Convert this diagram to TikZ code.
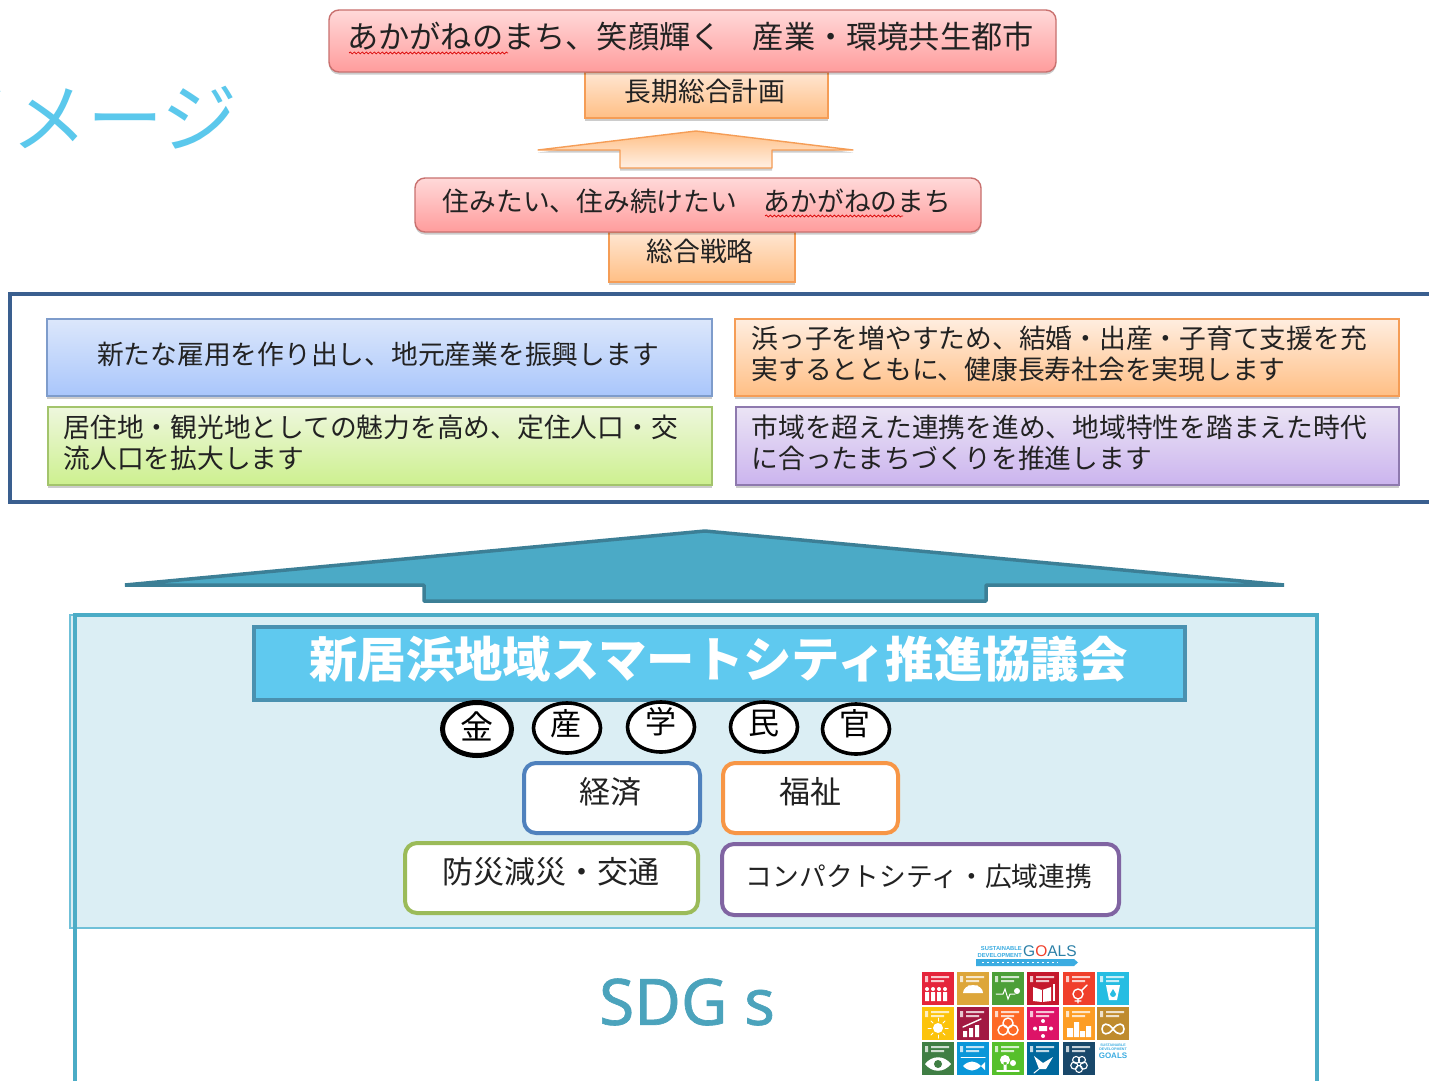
\documentclass[tikz,border=0pt]{standalone}
\usepackage{fontspec}
\setmainfont{Noto Sans CJK JP}
\newfontfamily\latinsans{Liberation Sans}
\newfontfamily\sdgfont[FakeBold=1]{Noto Sans}
\usetikzlibrary{shapes.geometric,shadows,decorations.pathmorphing}
\newcommand{\fs}[1]{\fontsize{#1}{#1}\selectfont}
% box by its pixel corners
\newcommand{\bx}[6]{%
  \pgfmathsetmacro{\bw}{#5-#3}\pgfmathsetmacro{\bh}{#6-#4}%
  \pgfmathsetmacro{\cxx}{(#3+#5)/2}\pgfmathsetmacro{\cyy}{(#4+#6)/2}%
  \node (#1) [#2,minimum width=\bw pt,minimum height=\bh pt] at (\cxx,\cyy) {};}
\newcommand{\tile}[4]{\begin{scope}[shift={(#1,#2)}]
  \fill[#3] (0,0) rectangle (32,33);
  \fill[white,opacity=.75] (3,4) rectangle (6,10) (9,4) rectangle (27,6) (9,8) rectangle (22,10);
  \begin{scope}[white,line width=1.4pt,line cap=round] #4 \end{scope}
\end{scope}}
\definecolor{c1}{HTML}{E5243B}\definecolor{c2}{HTML}{DDA63A}\definecolor{c3}{HTML}{4C9F38}
\definecolor{c4}{HTML}{C5192D}\definecolor{c5}{HTML}{F0402B}\definecolor{c6}{HTML}{26BDE2}
\definecolor{c7}{HTML}{FCC30B}\definecolor{c8}{HTML}{A21942}\definecolor{c9}{HTML}{FD6925}
\definecolor{c10}{HTML}{DD1367}\definecolor{c11}{HTML}{FD9D24}\definecolor{c12}{HTML}{BF8B2E}
\definecolor{c13}{HTML}{3F7E44}\definecolor{c14}{HTML}{0A97D9}\definecolor{c15}{HTML}{56C02B}
\definecolor{c16}{HTML}{00689D}\definecolor{c17}{HTML}{19486A}
\definecolor{txt}{HTML}{222222}
\definecolor{RedB}{HTML}{C9716F}\definecolor{RedT}{HTML}{FFD9D9}\definecolor{RedE}{HTML}{FF9C9C}
\definecolor{OrB}{HTML}{F59D56}\definecolor{OrT}{HTML}{FFE6D2}\definecolor{OrE}{HTML}{FFBF85}
\definecolor{BlB}{HTML}{7E9CCB}\definecolor{BlT}{HTML}{DCE7FB}\definecolor{BlE}{HTML}{A9C6FB}
\definecolor{GrB}{HTML}{A3C46C}\definecolor{GrT}{HTML}{EEF7DD}\definecolor{GrE}{HTML}{CDF08F}
\definecolor{PuB}{HTML}{8E79AE}\definecolor{PuT}{HTML}{EBE4F5}\definecolor{PuE}{HTML}{CBB4EE}
\definecolor{HeadC}{HTML}{5BC8EC}\definecolor{FrameC}{HTML}{3A5F8F}
\definecolor{ArrB}{HTML}{3C7F96}\definecolor{ArrF}{HTML}{4BAAC6}
\definecolor{PanelT}{HTML}{6FC0D8}\definecolor{PanelB}{HTML}{4BACC6}\definecolor{PanelF}{HTML}{DBEEF4}
\definecolor{BarB}{HTML}{4A91B0}\definecolor{BarF}{HTML}{5FC9EF}
\definecolor{ThA}{HTML}{4F81BD}\definecolor{ThB}{HTML}{F79646}\definecolor{ThC}{HTML}{9BBB59}\definecolor{ThD}{HTML}{8064A2}
\definecolor{SdgC}{HTML}{4BA3BC}
\tikzset{
  x=1pt,y=-1pt,
  boxbase/.style={draw,inner sep=0pt,outer sep=0pt,line width=1.4pt},
  shad/.style={drop shadow={shadow xshift=0pt,shadow yshift=-2.5pt,opacity=.2,fill=black}},
  redbox/.style={boxbase,shad,rectangle,rounded corners=10pt,draw=RedB,top color=RedT,bottom color=RedE},
  orbox/.style={boxbase,shad,rectangle,draw=OrB,top color=OrT,bottom color=OrE},
  bluebox/.style={boxbase,shad,draw=BlB,top color=BlT,bottom color=BlE},
  orbig/.style={boxbase,shad,draw=OrB,top color=OrT!70!white,bottom color=OrE},
  greenbox/.style={boxbase,shad,draw=GrB,top color=GrT,bottom color=GrE},
  purplebox/.style={boxbase,shad,draw=PuB,top color=PuT,bottom color=PuE},
  theme/.style={draw=#1,fill=white,line width=4pt,rounded corners=12pt,inner sep=0pt,outer sep=0pt},
  sector/.style={ellipse,draw=black,fill=white,line width=3.6pt,inner sep=0pt,outer sep=0pt},
  lab/.style={text=txt,inner sep=0pt,outer sep=0pt},
  squig/.style={draw=red!85!black,line width=.7pt,decorate,decoration={snake,amplitude=1pt,segment length=4pt}},
  logotext/.style={inner sep=0pt,text=c14!80!white,font=\latinsans\bfseries\fontsize{#1}{#1}\selectfont},
}
\begin{document}
\begin{tikzpicture}
\useasboundingbox (0,0) rectangle (1429,1081);
\clip (0,0) rectangle (1429,1081);
\fill[white] (0,0) rectangle (1429,1081);
% clipped heading
\node (heading) [inner sep=0pt,text=HeadC,anchor=west] at (-65,118) {\fs{76}イメージ};
% top stack
\bx{plan}{orbox}{585}{72}{828}{118}
\bx{vision}{redbox}{329}{10}{1056}{72}
\node (visiont) [lab] at (690.5,37) {\fs{31.2}あかがねのまち、笑顔輝く　産業・環境共生都市};
\node (plant) [lab] at (705,91) {\fs{26.75}長期総合計画};
\draw[squig] (349,53) -- (508,53);
% small arrow
\draw[draw=OrB,line width=1.4pt,top color=OrE,bottom color=OrT!60!white,shad,line join=round]
  (696,131) -- (853,150) -- (772,150) -- (772,168) -- (620,168) -- (620,150) -- (538,150) -- cycle;
\bx{strategy}{orbox}{609}{232}{795}{282}
\bx{sub}{redbox}{415}{178}{981}{232}
\node (subt) [lab] at (697,201) {\fs{26.75}住みたい、住み続けたい　あかがねのまち};
\node (stratt) [lab] at (700,251) {\fs{26.75}総合戦略};
\draw[squig] (765,216) -- (903,216);
% framed objectives
\draw[draw=FrameC,line width=4pt] (1460,294) -- (10,294) -- (10,502) -- (1460,502);
\bx{obja}{bluebox}{47}{319}{712}{396}
\bx{objb}{orbig}{735}{319}{1399}{396}
\bx{objc}{greenbox}{48}{407}{712}{485}
\bx{objd}{purplebox}{736}{407}{1399}{485}
\node (objat) [lab] at (378,354) {\fs{26.75}新たな雇用を作り出し、地元産業を振興します};
\node (objbt) [lab,anchor=west] at (751.5,338) {\fs{26.75}浜っ子を増やすため、結婚・出産・子育て支援を充};
\node (objbu) [lab,anchor=west] at (751.5,369) {\fs{26.75}実するとともに、健康長寿社会を実現します};
\node (objct) [lab,anchor=west] at (63.5,427) {\fs{26.75}居住地・観光地としての魅力を高め、定住人口・交};
\node (objcu) [lab,anchor=west] at (63.5,458) {\fs{26.75}流人口を拡大します};
\node (objdt) [lab,anchor=west] at (751.5,427) {\fs{26.75}市域を超えた連携を進め、地域特性を踏まえた時代};
\node (objdu) [lab,anchor=west] at (751.5,458) {\fs{26.75}に合ったまちづくりを推進します};
% big arrow
\draw[draw=ArrB,fill=ArrF,line width=3.5pt,line join=miter,miter limit=1]
  (705,531) -- (1284,585) -- (986,585) -- (986,601) -- (424,601) -- (424,585) -- (125,585) -- cycle;
% council panel
\draw[draw=PanelT,line width=1.5pt,fill=PanelF] (70,615) rectangle (1317,928);
\draw[draw=PanelB,line width=4pt] (75,1090) -- (75,615) -- (1317,615) -- (1317,1090);
\node (council) [draw=BarB,fill=BarF,line width=4pt,inner sep=0pt,outer sep=0pt,minimum width=931pt,minimum height=73pt] at (719.5,663.5) {};
\node (councilt) [inner sep=0pt,text=white] at (718.5,659) {\fs{48.4}\bfseries 新居浜地域スマートシティ推進協議会};
% sectors
\node (kin) [sector,line width=5pt,minimum width=69pt,minimum height=53pt] at (477,729) {};
\node (san) [sector,minimum width=67pt,minimum height=50pt] at (567,728) {};
\node (gaku) [sector,minimum width=67pt,minimum height=50pt] at (661,727) {};
\node (min) [sector,minimum width=67pt,minimum height=50pt] at (764,727) {};
\node (kan) [sector,minimum width=67pt,minimum height=50pt] at (856,729) {};
\node (kint) [lab,text=black] at (477,726) {\fs{33}金};
\node (sant) [lab,text=black] at (566,724) {\fs{31}産};
\node (gakut) [lab,text=black] at (661,722) {\fs{31}学};
\node (mint) [lab,text=black] at (764,724) {\fs{31}民};
\node (kant) [lab,text=black] at (855,724) {\fs{31}官};
% themes
\bx{keizai}{theme=ThA}{524}{763}{700}{833}
\bx{fukushi}{theme=ThB}{723}{763}{898}{833}
\bx{bousai}{theme=ThC}{405}{843}{698}{913}
\bx{compact}{theme=ThD}{722}{844}{1119}{915}
\node (keizait) [lab] at (610,792) {\fs{31}経済};
\node (fukushit) [lab] at (810,792) {\fs{31}福祉};
\node (bousait) [lab] at (551,872) {\fs{31}防災減災・交通};
\node (compactt) [lab] at (919,876) {\fs{26.75}コンパクトシティ・広域連携};
% SDGs
\node (sdg) [inner sep=0pt,text=SdgC] at (687,1002) {\fs{64}\sdgfont SDG s};
% SDG logo header
\node (sdgsa) [logotext=5.8,anchor=east] at (1022,948) {SUSTAINABLE};
\node (sdgsb) [logotext=5.8,anchor=east] at (1022,955) {DEVELOPMENT};
\node (goals) [inner sep=0pt,text=c14!70!black!85!white,anchor=west,font=\latinsans\fontsize{15.5}{16}\selectfont] at (1023,951) {G{\color{c5}O}ALS};
\fill[c14!80!white] (976,959) -- (1074,959) -- (1078,962.5) -- (1074,966) -- (976,966) -- cycle;
\draw[white,line width=1.5pt,dash pattern=on 2pt off 3pt] (982,962.5) -- (1058,962.5);
% tiles
\tile{922}{972}{c1}{\foreach \p in {5,11,17,23}{\fill[white] (\p,17) circle [radius=2] (\p-2,20) rectangle (\p+2,29);}}
\tile{957}{972}{c2}{\fill[white] (6,21) arc [start angle=180,end angle=0,x radius=10,y radius=-8] -- cycle; \draw (12,14)--(12,19) (16,14)--(16,19) (20,14)--(20,19);}
\tile{992}{972}{c3}{\draw[line width=1pt] (4,22)--(11,22)--(13,17)--(16,27)--(18,22)--(23,22); \fill[white] (25,19) circle [radius=3];}
\tile{1027}{972}{c4}{\fill[white] (6,15)--(15,18)--(24,15)--(24,29)--(15,30)--(6,29)--cycle; \fill[c4] (14.5,18) rectangle (15.5,30); \fill[white] (26,12) rectangle (28,29);}
\tile{1063}{972}{c5}{\draw (15,22) circle [radius=5] (15,27)--(15,31) (12,29)--(18,29) (19,18)--(24,13);}
\tile{1097}{972}{c6}{\fill[white] (9,13)--(23,13)--(20,28)--(12,28)--cycle; \fill[c6] (16,17)--(19,22) arc [start angle=0,end angle=180,radius=3] -- cycle;}
\tile{922}{1007}{c7}{\fill[white] (16,21) circle [radius=5]; \foreach \a in {0,45,...,315}{\draw[line width=1pt] (16,21) ++(\a:7) -- ++(\a:3);}}
\tile{957}{1007}{c8}{\fill[white] (6,30) rectangle (10,24) (12,30) rectangle (16,21) (18,30) rectangle (22,18); \draw (6,20)--(24,12);}
\tile{992}{1007}{c9}{\draw (11,23) circle [radius=5] (21,23) circle [radius=5] (16,16) circle [radius=5];}
\tile{1027}{1007}{c10}{\fill[white] (16,14) circle [radius=2] (16,29) circle [radius=2] (8,21.5) circle [radius=2] (24,21.5) circle [radius=2] (12,19) rectangle (20,24);}
\tile{1063}{1007}{c11}{\fill[white] (4,30) rectangle (10,21) (11,30) rectangle (16,15) (17,30) rectangle (22,24) (23,30) rectangle (28,19);}
\tile{1097}{1007}{c12}{\draw[line width=1.6pt] (16,22) .. controls (11,15) and (5,16) .. (5,22) .. controls (5,28) and (11,29) .. (16,22) .. controls (21,15) and (27,16) .. (27,22) .. controls (27,28) and (21,29) .. (16,22);}
\tile{922}{1042}{c13}{\fill[white] (3,22) .. controls (10,13) and (22,13) .. (29,22) .. controls (22,31) and (10,31) .. (3,22); \fill[c13] (16,22) circle [radius=4];}
\tile{957}{1042}{c14}{\fill[white] (6,24) .. controls (12,18) and (18,18) .. (24,24) -- (28,20) -- (28,28) -- (24,24) .. controls (18,30) and (12,30) .. (6,24); \draw[line width=1pt] (4,15)--(28,15);}
\tile{992}{1042}{c15}{\fill[white] (13,18) circle [radius=5] (11.5,20) rectangle (14.5,28) (21,21) circle [radius=3]; \draw (5,29)--(27,29);}
\tile{1027}{1042}{c16}{\fill[white] (7,14)--(16,21)--(26,15)--(19,27)--(12,27)--cycle; \draw[line width=1pt] (12,27)--(7,31);}
\tile{1063}{1042}{c17}{\foreach \a in {18,90,...,306}{\draw[line width=1.1pt] (16,22) ++(\a:5) circle [radius=3.5];}}
\node (tilea) [logotext=3.6] at (1113,1045) {SUSTAINABLE};
\node (tileb) [logotext=3.6] at (1113,1049) {DEVELOPMENT};
\node (tilec) [logotext=8] at (1113,1055.5) {GOALS};
\end{tikzpicture}
\end{document}
